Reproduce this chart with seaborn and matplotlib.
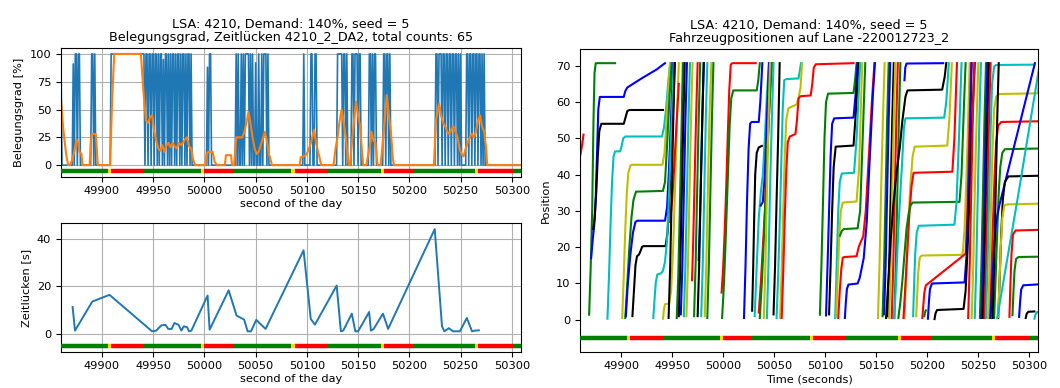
import numpy as np
import pandas as pd
import matplotlib
matplotlib.use("Agg")
import matplotlib.pyplot as plt
import seaborn as sns

# ---------------- data ----------------
title_top = "LSA: 4210, Demand: 140%, seed = 5"
title_left = "Belegungsgrad, Zeitlücken 4210_2_DA2, total counts: 65"
title_right = "Fahrzeugpositionen auf Lane -220012723_2"

t_start, t_end = 49860, 50309

# signal program (start second of each phase) and its colour
signal_starts = [49860, 49906, 49909, 49941, 49997, 50000, 50028, 50085, 50088,
                 50120, 50172, 50175, 50204, 50264, 50267, 50301]
signal_states = "gyrgyrgyrgyrgyrg"
signal_level = -5

# detector occupancy (per second): continuous spans at 100 %, single seconds at 100 %, partial values
occ_spans = [(49909, 49941)]
occ_seconds = [49860, 49874, 49875, 49877, 49878, 49890, 49891, 49893,
               49943, 49944, 49946, 49947, 49949, 49950, 49952, 49953, 49955, 49957, 49958,
               49962, 49963, 49965, 49967, 49969, 49970, 49972, 49974, 49975, 49977, 49979,
               49980, 49982, 49984, 49985, 49987,
               50005, 50006,
               50031, 50033, 50036, 50038, 50040, 50041, 50042, 50043, 50045, 50047, 50053,
               50056, 50058, 50059, 50060, 50062,
               50097, 50104, 50105, 50108, 50109,
               50130, 50131, 50132, 50133, 50134, 50136, 50137, 50139,
               50144, 50145, 50147, 50148, 50149, 50151, 50152,
               50161, 50162, 50164, 50166, 50167,
               50175, 50176, 50178, 50179, 50181,
               50226, 50227, 50229, 50230, 50231, 50233, 50234, 50236, 50237, 50239, 50240,
               50242, 50243, 50245, 50246, 50248, 50250,
               50256, 50257, 50259, 50260, 50262, 50263, 50265, 50266, 50268, 50269, 50271, 50273]
occ_partial = {49872: 91, 49960: 95, 50003: 88, 50050: 92}

# smoothed occupancy (orange)
smooth_t = [49860, 49862, 49865, 49867, 49869, 49871, 49873, 49875, 49877, 49878, 49880, 49881,
            49888, 49889, 49890, 49894, 49896, 49908, 49910, 49912, 49938, 49941, 49943, 49945,
            49947, 49949, 49951, 49953, 49955, 49957, 49959, 49961, 49963, 49965, 49967, 49969,
            49971, 49973, 49975, 49977, 49979, 49981, 49983, 49985, 49987, 49989, 49991,
            50001, 50002, 50004, 50008, 50010, 50012, 50020, 50021, 50026, 50027, 50029,
            50031, 50034, 50037, 50039, 50041, 50043, 50045, 50047, 50049, 50051, 50053, 50055,
            50057, 50059, 50061, 50063, 50066,
            50093, 50094, 50097, 50100, 50102, 50104, 50106, 50107, 50109, 50111, 50114,
            50126, 50128, 50130, 50132, 50134, 50136, 50138, 50140, 50141,
            50142, 50144, 50146, 50148, 50150, 50152, 50154, 50155,
            50158, 50160, 50162, 50163, 50165, 50167, 50169,
            50172, 50174, 50176, 50178, 50180, 50182, 50184, 50185,
            50224, 50226, 50228, 50229, 50231, 50233, 50235, 50237, 50239, 50241, 50243, 50245,
            50247, 50249, 50251, 50253, 50255, 50257, 50259, 50261, 50263, 50265, 50267, 50269,
            50271, 50273, 50275, 50276, 50309]
smooth_v = [60, 35, 10, 0, 0, 5, 12, 23, 20, 12, 10, 0,
            0, 20, 28, 28, 0, 0, 60, 100, 100, 60, 40, 38,
            43, 45, 30, 22, 15, 13, 18, 12, 18, 20, 16, 20,
            17, 15, 20, 18, 20, 23, 25, 17, 15, 5, 0,
            0, 10, 12, 12, 3, 0, 0, 9, 9, 0, 0,
            25, 25, 25, 30, 38, 48, 38, 25, 15, 10, 12, 18,
            24, 30, 22, 10, 0,
            0, 7, 8, 10, 15, 20, 28, 32, 20, 12, 0,
            0, 15, 25, 40, 50, 38, 25, 5, 0,
            0, 20, 40, 57, 45, 35, 10, 0,
            0, 10, 20, 30, 22, 20, 0,
            0, 20, 40, 63, 45, 30, 5, 0,
            0, 40, 50, 55, 45, 38, 35, 30, 28, 32, 35, 30,
            25, 15, 10, 8, 15, 20, 25, 28, 25, 30, 40, 45,
            35, 30, 15, 0, 0]

# time gaps (Zeitlücken)
gap_t = [49871.4, 49873.7, 49890.6, 49907.4, 49948.9, 49953, 49958, 49962, 49964.7, 49968,
         49970.8, 49974.8, 49977.5, 49979.9, 49983.2, 49985, 49987.3, 50003.1, 50005.1, 50023.7,
         50031.4, 50038.8, 50042.2, 50045.5, 50050.6, 50059.7, 50096.8, 50103.8, 50107.9, 50129.1,
         50133.2, 50135.5, 50143.9, 50147.3, 50150, 50160.8, 50162.5, 50165.2, 50174.3, 50179.3,
         50224.8, 50231.9, 50234.2, 50238.6, 50242.6, 50249.4, 50256.1, 50261.2, 50263.9, 50267.9]
gap_v = [11.3, 1.4, 13.6, 16.4, 1.1, 1.4, 3.6, 3.8, 2.1, 2.1,
         4.6, 3.8, 1.4, 3.2, 2.8, 1.1, 1.4, 16.1, 1.8, 18.3,
         7.7, 6.0, 1.1, 1.1, 5.9, 2.1, 35.1, 6.3, 3.9, 20.3,
         1.1, 1.4, 8.5, 1.1, 1.1, 9.2, 1.4, 2.1, 8.5, 2.1,
         44.0, 3.2, 1.1, 2.4, 1.1, 1.1, 6.7, 1.1, 1.4, 1.5]

# vehicle trajectories (time, position) grouped by signal cycle
veh_cycle1 = [
    [(49860, 45.5), (49861.5, 48), (49863, 51)],
    [(49868.5, 1.4), (49870, 14), (49871.5, 30), (49872.8, 55), (49873.8, 68), (49875, 70.7), (49894, 70.7)],
    [(49870.5, 17), (49872, 22), (49873.5, 26), (49875, 34), (49876.5, 48), (49877.5, 58), (49879, 61.4),
     (49902.5, 61.4), (49904, 63), (49906, 64), (49920, 66.5), (49935, 69), (49941, 70.3), (49943, 70.7)],
    [(49872.5, 25), (49874, 28), (49875.5, 35), (49877, 45), (49878.5, 52), (49880.5, 54), (49902.5, 54),
     (49904, 55.5), (49906, 57.5), (49908, 57.8), (49941, 57.8)],
    [(49886.5, 0.3), (49888, 12), (49889.5, 26), (49891, 38), (49892.5, 45), (49894, 46.4), (49899, 46.4),
     (49900.5, 48), (49902, 50), (49904, 50.5), (49940, 50.5), (49942, 53), (49944, 58), (49946, 65), (49948, 70.7)],
    [(49901, 0.5), (49902.5, 12), (49904, 25), (49905.5, 35), (49907, 40.5), (49909, 42.5), (49910.5, 42.7),
     (49940.5, 42.7), (49942.5, 46), (49944.5, 55), (49946.5, 65), (49948, 70.7)],
    [(49904, 0.5), (49906, 10), (49908, 20), (49910, 28), (49912, 33), (49914.5, 35.3), (49941, 35.5),
     (49943, 38), (49945, 48), (49947.5, 62), (49949.5, 70.7)],
    [(49904.5, 1), (49906.5, 10), (49909, 18), (49911.5, 24), (49914, 27), (49916, 27.3), (49943, 27.3),
     (49945, 31), (49947, 42), (49949.5, 60), (49951, 70.7)],
    [(49911, 1), (49912.5, 8), (49914, 15), (49915.5, 17.5), (49917.5, 18), (49919, 19), (49920.5, 20.1),
     (49922, 20.3), (49943.5, 20.3), (49945.5, 24), (49948, 38), (49950.5, 55), (49952.5, 70.7)],
    [(49931.5, 0.5), (49932.8, 6), (49934, 10.5), (49935.5, 12.5), (49939, 12.8), (49941, 13.5), (49943, 16),
     (49945, 22), (49947, 35), (49949.5, 55), (49951.5, 70.7)],
    [(49941, 0.3), (49942, 3), (49943, 4.3), (49947, 4.5), (49949, 8), (49951, 20), (49953, 38), (49955, 58),
     (49956.5, 70.7)],
    [(49948, 27), (49950, 33), (49952, 42), (49954.5, 55), (49956.5, 65)],
    [(49954.5, 0.5), (49956, 12), (49957.5, 30), (49959, 50), (49960.5, 70.7)],
    [(49956.5, 1), (49958, 15), (49959.5, 35), (49961, 55), (49962.3, 70.7)],
    [(49958.5, 1.5), (49960, 15), (49961.5, 35), (49963, 55), (49964.5, 70.7)],
    [(49961.5, 1), (49963, 15), (49964.5, 35), (49966, 55), (49967.5, 70.7)],
    [(49964, 1), (49965.5, 15), (49967, 35), (49968.5, 55), (49970, 70.7)],
    [(49969.5, 10.9), (49970.5, 20), (49972, 38), (49973.5, 56), (49975, 70.7)],
    [(49971.5, 1), (49973, 15), (49974.5, 35), (49976, 55), (49977.5, 70.7)],
    [(49976, 16.5), (49977, 25), (49978.5, 42), (49980, 60), (49981, 70.7)],
    [(49975, 1), (49976.5, 15), (49978, 35), (49979.5, 55), (49981, 70.7)],
    [(49978.5, 1), (49980, 15), (49981.5, 35), (49983, 55), (49984.5, 70.7)],
    [(49982, 1), (49983.5, 15), (49985, 35), (49986.5, 55), (49988.5, 70.7)],
    [(49946.5, 0.5), (49948, 14), (49949.5, 34), (49951, 54), (49952.5, 70.7)],
    [(49984.5, 0.5), (49986, 15), (49987.5, 35), (49989, 55), (49990.5, 70.7)],
]
col_cycle1 = "rgbkcygbkcyrgkbcyrgbkcykg"

veh_cycle2 = [
    [(49998.5, 7.5), (50000, 14), (50001.5, 24), (50003, 36), (50004.5, 50), (50006, 63), (50007.5, 70.3),
     (50009, 70.7), (50032, 70.7)],
    [(49999, 0.5), (50000.5, 8), (50002, 18), (50003.5, 30), (50005, 42), (50006.5, 54), (50008, 61),
     (50010, 63.2), (50033, 63.2), (50034.5, 66), (50036, 70.7)],
    [(50020.5, 0.5), (50022, 15), (50023.5, 33), (50025, 47), (50026.5, 54), (50028, 54.5), (50035, 54.5),
     (50036.5, 60), (50038.5, 70.7)],
    [(50028.5, 2.5), (50029.5, 14), (50030.5, 28), (50031.5, 40), (50033, 46), (50035, 47.5), (50038, 47.9)],
    [(50031, 1), (50033, 15), (50035, 28), (50037, 35), (50039, 40), (50041, 50), (50043, 62), (50045, 70.7)],
    [(50037, 31.5), (50039, 32.5), (50041, 40), (50043, 55), (50045, 70.7)],
    [(50035, 2), (50037, 10), (50039, 20), (50041, 30), (50043, 45), (50046, 62), (50047.5, 70.7)],
    [(50036, 0.5), (50038, 10), (50040, 22), (50042, 36), (50044, 50), (50046, 62), (50048, 70.7)],
    [(50049.5, 1.5), (50051, 15), (50052.5, 33), (50054, 50), (50055.5, 70.7)],
    [(50052.5, 0.5), (50054, 12), (50055.5, 26), (50057, 42), (50058.5, 58), (50060, 66), (50062, 66.3),
     (50074, 66.5), (50075.5, 69), (50076.5, 70.7)],
    [(50056, 0.5), (50057.5, 14), (50059, 30), (50060.5, 45), (50062, 55), (50064, 58.3), (50072, 59.3),
     (50074, 61), (50076, 64), (50077.5, 70.7)],
    [(50057.5, 0.5), (50059, 13), (50060.5, 28), (50062, 41), (50063.5, 49), (50065.5, 50.5), (50071, 51.2),
     (50072.5, 55), (50074, 61), (50076, 61.6), (50086, 61.8), (50087.5, 65), (50089, 69.5), (50091, 70.4),
     (50128, 70.7)],
    [(50040, 0.5), (50041.5, 15), (50043, 35), (50044.5, 55), (50046, 70.7)],
    [(50043, 0.5), (50044.5, 15), (50046, 35), (50047.8, 55), (50049.5, 70.7)],
]
col_cycle2 = "rgbkcbrgkcyryc"

veh_cycle3 = [
    [(50095, 1.4), (50096.5, 15), (50098, 32), (50099.5, 50), (50101, 60), (50103, 62.3), (50128, 62.5),
     (50129.5, 66), (50131, 70.7)],
    [(50101, 1.2), (50102.5, 15), (50104, 30), (50105.5, 45), (50107, 54), (50109, 55.5), (50128, 55.7),
     (50130, 62), (50132, 70.7)],
    [(50104, 1.5), (50105.5, 15), (50107, 30), (50108.5, 42), (50110.5, 47.7), (50128, 48), (50130.5, 58),
     (50133, 70.7)],
    [(50110, 0.5), (50111.5, 15), (50113, 30), (50114.5, 38), (50116.5, 40.3), (50128.5, 40.5), (50131, 50),
     (50134.5, 70.7)],
    [(50111, 0.8), (50112.5, 12), (50114, 23), (50115.5, 30), (50117.5, 32.3), (50131, 32.6), (50133.5, 42),
     (50136.5, 70.7)],
    [(50114.7, 23.2), (50116.5, 24.5), (50118.5, 25), (50132, 25.2), (50134.5, 30), (50137, 50), (50139.5, 70.7)],
    [(50113, 0.5), (50114.5, 8), (50116, 14), (50117.5, 17.1), (50119, 17.3), (50131, 17.5), (50133, 20),
     (50135, 21.4), (50137.5, 23), (50140, 30), (50143, 45), (50146, 60), (50148.5, 70.7)],
    [(50119.5, 0.5), (50120.5, 5), (50121.5, 8.5), (50123, 9.7), (50132, 10), (50134, 11.5), (50135.5, 13.5),
     (50138, 17), (50141, 27), (50144, 45), (50147, 62), (50149, 70.7)],
    [(50156.5, 1), (50158, 15), (50159.5, 35), (50161, 55), (50162.5, 70.7)],
    [(50158, 1.5), (50159.5, 15), (50161, 35), (50162.5, 55), (50164, 70.7)],
    [(50161.5, 1), (50163, 15), (50164.5, 35), (50166, 55), (50167.5, 70.7)],
    [(50163, 0.5), (50164.5, 15), (50166, 35), (50167.5, 55), (50169, 70.7)],
    [(50165.5, 0.5), (50167, 15), (50168.5, 35), (50170, 55), (50171.5, 70.7)],
    [(50152, 0.5), (50153.5, 15), (50155, 35), (50156.8, 55), (50158.5, 70.7)],
    [(50168, 0.5), (50169.5, 15), (50171, 35), (50172.5, 55), (50174, 70.7)],
]
col_cycle3 = "gbkcygrbgbkyryg"

veh_cycle4 = [
    [(50160, 0.5), (50162, 10), (50164.5, 22), (50167, 31.4), (50170, 40), (50173.5, 47.7), (50176, 55),
     (50179, 61.5), (50181, 63.2), (50215, 63.4), (50217.5, 67), (50219, 70.7)],
    [(50178, 66), (50178.8, 69.5), (50180, 70.6), (50216, 70.7)],
    [(50168, 0.5), (50170, 12), (50172, 25), (50174, 35), (50176, 45), (50177.5, 53), (50179, 55.5),
     (50217, 55.7), (50219, 60), (50221.5, 70.7)],
    [(50178, 0.5), (50180, 15), (50182, 28), (50184, 38), (50186, 45), (50188, 47.7), (50220, 48),
     (50222, 55), (50224.5, 70.7)],
    [(50177, 0.5), (50179, 10), (50181, 20), (50183, 30), (50185, 37), (50187, 40.5), (50225, 40.8),
     (50227, 50), (50229.5, 70.7)],
    [(50172, 0.5), (50174, 5), (50176, 11), (50178, 18), (50180, 25), (50182, 29), (50184, 31.5),
     (50186, 32.3), (50232, 32.5), (50234, 40), (50236.5, 60), (50238, 70.7)],
    [(50186.5, 1), (50187.5, 10), (50188.5, 18), (50190, 24), (50192, 25.9), (50227, 26.2), (50229, 32),
     (50231.5, 50), (50234, 70.7)],
    [(50189.5, 1), (50190.5, 7), (50191.5, 13), (50193, 17.2), (50195, 17.7), (50235, 17.9), (50237, 25),
     (50239.5, 45), (50242, 70.7)],
    [(50195.5, 0.5), (50196.5, 4), (50197.5, 7.5), (50199, 9.5), (50238, 18.2), (50239.5, 28),
     (50241.5, 50), (50243.5, 70.7)],
    [(50197.5, 1), (50198.3, 2.2), (50199, 2.6)],
    [(50201, 0.3), (50202, 5), (50203, 8.5), (50205, 10), (50237, 10.3), (50239, 18), (50241.5, 40),
     (50244, 70.7)],
    [(50207.5, 0.2), (50208.5, 1.8), (50210, 2.7), (50236, 3), (50238, 8), (50240, 20), (50242, 35),
     (50244.5, 55), (50247, 70.7)],
    [(50240.5, 0.5), (50242, 15), (50243.5, 35), (50245, 55), (50246.5, 70.7)],
    [(50244, 0.5), (50245.5, 15), (50247, 35), (50248.8, 55), (50250.5, 70.7)],
    [(50247, 0.5), (50248.5, 15), (50250, 35), (50251.5, 55), (50253, 70.7)],
]
col_cycle4 = "kbcyrgcyrgbkryc"

veh_cycle5 = [
    [(50252, 0.5), (50253.5, 15), (50255, 35), (50256.5, 55), (50258, 70.7)],
    [(50253.5, 0.5), (50255, 15), (50256.5, 35), (50258, 55), (50259.5, 70.7)],
    [(50255, 0.5), (50256.5, 15), (50258, 35), (50259.5, 55), (50261, 70.7)],
    [(50256.5, 0.5), (50258, 15), (50259.5, 35), (50261, 55), (50262.5, 70.7)],
    [(50258, 0.5), (50259.5, 15), (50261, 33), (50262.5, 52), (50264, 65), (50266, 69.8), (50268, 70.2),
     (50305.5, 70.3)],
    [(50260, 0.5), (50261.5, 15), (50263, 32), (50264.5, 48), (50266, 58), (50268, 61.5), (50271, 62.2),
     (50309, 62.4), (50310, 66), (50311, 70.7)],
    [(50262, 0.5), (50263.5, 14), (50265, 28), (50266.5, 40), (50268, 49), (50270, 53.5), (50273, 54.5),
     (50312, 54.7)],
    [(50266, 0.5), (50267.5, 12), (50269, 24), (50270.5, 35), (50272, 42), (50274, 46), (50276.5, 47),
     (50312, 47.2)],
    [(50262.5, 0.5), (50264, 10), (50266, 20), (50268, 27), (50271, 31.4), (50306, 70.7)],
    [(50270, 0.5), (50271.5, 12), (50273, 24), (50274.5, 33), (50276.5, 38), (50280, 39.5), (50312, 39.7)],
    [(50270, 0.8), (50271.2, 10), (50272.5, 20), (50274, 28), (50276, 31.5), (50279, 31.8), (50312, 32)],
    [(50269, 0.5), (50290, 35), (50310.5, 70)],
    [(50281, 0.8), (50282, 10), (50283, 18), (50284.5, 23.5), (50287, 24.6), (50312, 24.8)],
    [(50284, 1.3), (50285, 8), (50286, 13.5), (50287.5, 16.8), (50290, 17.3), (50312, 17.4)],
    [(50290.5, 0.8), (50291.5, 5), (50292.5, 8.3), (50294.5, 9.5), (50312, 9.8)],
    [(50297, 0.5), (50298, 1.7), (50299.5, 2.2), (50305.5, 2.3)],
    [(50305.5, 0.3), (50306.5, 1.4), (50308, 2.1), (50312, 2.3)],
    [(50264.5, 0.5), (50266, 15), (50267.5, 35), (50269, 55), (50270.5, 70.7)],
]
col_cycle5 = "gbkrcyrgbkycrgbkck"

# ---------------- build tables ----------------
sec = np.arange(t_start, t_end + 1)
occ = np.zeros(len(sec))
for a, b in occ_spans:
    occ[(sec >= a) & (sec <= b)] = 100
for s in occ_seconds:
    occ[sec == s] = 100
for s, v in occ_partial.items():
    occ[sec == s] = v
df_occ = pd.DataFrame({"t": sec, "occ": occ})
df_smooth = pd.DataFrame({"t": smooth_t, "v": smooth_v})
df_gap = pd.DataFrame({"t": gap_t, "gap": gap_v})

cmap = {"r": "red", "g": "green", "b": "blue", "k": "black", "c": "c", "y": "y"}
rows, pal = [], {}
vid = 0
for vehs, cols in [(veh_cycle1, col_cycle1), (veh_cycle2, col_cycle2), (veh_cycle3, col_cycle3),
                   (veh_cycle4, col_cycle4), (veh_cycle5, col_cycle5)]:
    for traj, c in zip(vehs, cols):
        for t, p in traj:
            rows.append((vid, t, p))
        pal[vid] = cmap[c]
        vid += 1
df_veh = pd.DataFrame(rows, columns=["vid", "t", "pos"])

sig_ends = signal_starts[1:] + [t_end + 3]
sig_col = {"g": "green", "y": "gold", "r": "red"}


def draw_signal(ax, lw):
    for s, e, st in zip(signal_starts, sig_ends, signal_states):
        ax.plot([s, e], [signal_level, signal_level], color=sig_col[st], lw=lw,
                solid_capstyle="butt", zorder=3)


# ---------------- figure ----------------
plt.rcParams["font.family"] = ["DejaVu Sans"]
fs_title, fs_lab = 9.2, 8.2
fig = plt.figure(figsize=(10.6, 3.88), dpi=100)
ax1 = fig.add_axes([0.0575, 0.545, 0.434, 0.331])
ax2 = fig.add_axes([0.0575, 0.0936, 0.434, 0.331])
ax3 = fig.add_axes([0.5476, 0.0936, 0.4316, 0.779])

# top-left: occupancy
sns.lineplot(data=df_occ, x="t", y="occ", ax=ax1, color="tab:blue", lw=1.2, estimator=None)
sns.lineplot(data=df_smooth, x="t", y="v", ax=ax1, color="tab:orange", lw=1.5, estimator=None)
ax1.plot([t_start, t_end], [signal_level, signal_level], alpha=0)
draw_signal(ax1, 3.2)
ax1.set_xlim(t_start, t_end)
ax1.set_yticks([0, 25, 50, 75, 100])
ax1.grid(True)
ax1.set_title(title_top + "\n" + title_left, fontsize=fs_title, pad=5, linespacing=1.05)
ax1.set_xlabel("second of the day", fontsize=fs_lab, labelpad=2)
ax1.set_ylabel("Belegungsgrad [%]", fontsize=fs_lab)

# bottom-left: time gaps
sns.lineplot(data=df_gap, x="t", y="gap", ax=ax2, color="tab:blue", lw=1.4, estimator=None)
ax2.plot([t_start, t_end], [signal_level, signal_level], alpha=0)
draw_signal(ax2, 3.2)
ax2.set_xlim(t_start, t_end)
ax2.set_yticks([0, 20, 40])
ax2.grid(True)
ax2.set_xlabel("second of the day", fontsize=fs_lab, labelpad=2)
ax2.set_ylabel("Zeitlücken [s]", fontsize=fs_lab)

# right: vehicle positions
sns.lineplot(data=df_veh, x="t", y="pos", hue="vid", palette=pal, ax=ax3, lw=1.5,
             estimator=None, sort=False, legend=False)
ax3.plot([t_start, t_end], [signal_level, signal_level], alpha=0)
draw_signal(ax3, 3.2)
ax3.set_xlim(t_start, t_end)
ax3.set_yticks(range(0, 80, 10))
ax3.set_title(title_top + "\n" + title_right, fontsize=fs_title, pad=5, linespacing=1.05)
ax3.set_xlabel("Time (seconds)", fontsize=fs_lab, labelpad=2)
ax3.set_ylabel("Position", fontsize=fs_lab)

for ax in (ax1, ax2, ax3):
    ax.tick_params(labelsize=fs_lab)
    ax.margins(y=0.05)

fig.savefig("out.png", dpi=100)
